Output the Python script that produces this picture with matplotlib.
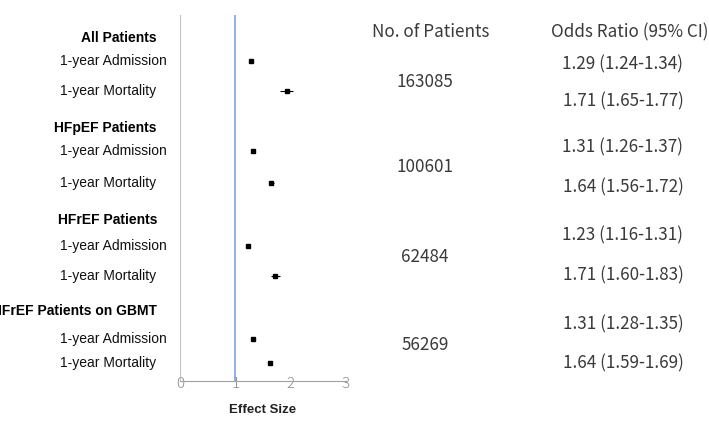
import matplotlib.pyplot as plt
from matplotlib.transforms import blended_transform_factory

# groups and outcomes
groups = ["All Patients", "HFpEF Patients", "HFrEF Patients", "HFrEF Patients on GBMT"]
outcomes = ["1-year Admission", "1-year Mortality"]
n_patients = ["163085", "100601", "62484", "56269"]
or_text = ["1.29 (1.24-1.34)", "1.71 (1.65-1.77)",
           "1.31 (1.26-1.37)", "1.64 (1.56-1.72)",
           "1.23 (1.16-1.31)", "1.71 (1.60-1.83)",
           "1.31 (1.28-1.35)", "1.64 (1.59-1.69)"]
# point estimates and half CI as drawn in the plot
est = [1.28, 1.93, 1.32, 1.65, 1.23, 1.72, 1.32, 1.63]
err = [0.03, 0.12, 0.03, 0.05, 0.04, 0.08, 0.02, 0.02]

# row layout (pixel rows, top = 15, axis = 381)
header_y = [38, 128, 220, 311]
row_y = [61, 91, 151, 183, 246, 276, 339, 363]
text_y = [64, 101, 147, 187, 235, 275, 324, 363]
n_y = [82, 167, 257, 345]

W, H = 709, 432
fig = plt.figure(figsize=(W / 100, H / 100), dpi=100)
ax = fig.add_axes([180 / W, 1 - 381 / H, 166 / W, 366 / H])
ax.set_xlim(0, 3)
ax.set_ylim(381, 15)

ax.errorbar(est, row_y, xerr=err, fmt='s', color='black', ms=2.5, elinewidth=0.8, capsize=0)
ax.axvline(1, color='#7FA3E6', lw=1.2)

for s in ['top', 'right']:
    ax.spines[s].set_visible(False)
ax.spines['left'].set_color('#C4C4C4')
ax.spines['bottom'].set_color('#A0A0A0')
ax.set_yticks([])
ax.set_xticks([0, 1, 2, 3])
ax.tick_params(axis='x', length=0, pad=-2.8, labelcolor='#8C8C8C', labelsize=11)
for lab in ax.get_xticklabels():
    lab.set_family('Noto Sans CJK JP')
    lab.set_fontweight('light')

tr = blended_transform_factory(fig.transFigure, ax.transData)
lab_font = ['Liberation Sans', 'DejaVu Sans']
for g, y in zip(groups, header_y):
    ax.text(157 / W, y, g, transform=tr, ha='right', va='center', fontsize=10,
            fontweight='bold', family=lab_font, color='black')
for i, y in enumerate(row_y):
    ax.text(60 / W, y, outcomes[i % 2], transform=tr, ha='left', va='center',
            fontsize=10, family=lab_font, color='#111111')

cjk = ['Noto Sans CJK JP', 'DejaVu Sans']
ax.text(431 / W, 32, "No. of Patients", transform=tr, ha='center', va='center',
        fontsize=12.3, family=cjk, color='#3a3a3a')
ax.text(630 / W, 32, "Odds Ratio (95% CI)", transform=tr, ha='center', va='center',
        fontsize=12.3, family=cjk, color='#3a3a3a')
for n, y in zip(n_patients, n_y):
    ax.text(425 / W, y, n, transform=tr, ha='center', va='center',
            fontsize=12.3, family=cjk, color='#3a3a3a')
for t, y in zip(or_text, text_y):
    ax.text(623 / W, y, t, transform=tr, ha='center', va='center',
            fontsize=12.3, family=cjk, color='#3a3a3a')

fig.text(263 / W, 1 - 410 / H, "Effect Size", ha='center', va='center', fontsize=9.5,
         fontweight='bold', family=lab_font, color='#222222')

fig.savefig('out.png', dpi=100)
